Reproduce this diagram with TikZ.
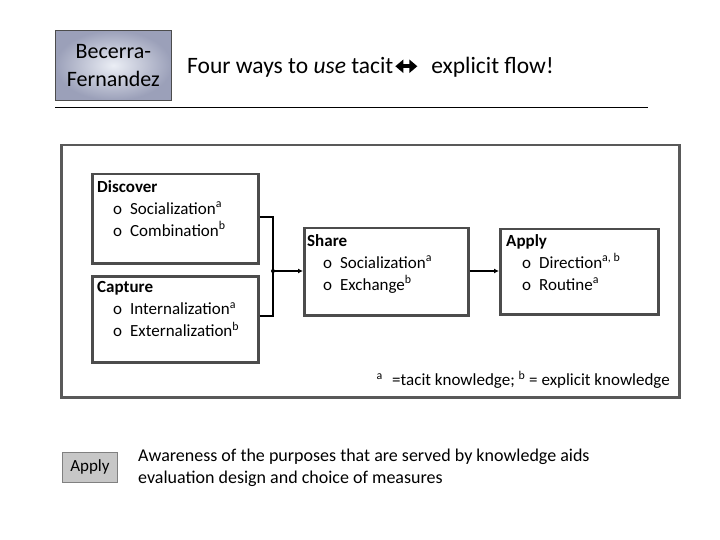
\documentclass[tikz,border=0pt]{standalone}
\usepackage{fontspec}
\setmainfont{Carlito}
\usetikzlibrary{arrows.meta}
\definecolor{bfout}{RGB}{155,160,185}
\definecolor{bfin}{RGB}{235,238,245}
\begin{document}
\begin{tikzpicture}[x=1pt,y=-1pt,
  box/.style={draw=black!70,line width=2.5pt,anchor=north west,inner sep=0pt},
  txt/.style={anchor=north west,inner sep=0pt,align=left,font=\fontsize{17}{22}\selectfont},
  conn/.style={line width=1.3pt,-{Latex[length=5pt,width=5pt]}}]
\useasboundingbox (0,0) rectangle (720,540);
\node[draw=black!70,line width=0.8pt,shading=radial,inner color=bfin,outer color=bfout,
  minimum width=116pt,minimum height=70pt,anchor=north west,inner sep=0pt,align=center,
  font=\fontsize{22}{28}\selectfont] (bf) at (55,30) {Becerra-\\Fernandez};
\node[anchor=west,inner sep=0pt,font=\fontsize{23.5}{27}\selectfont] (title) at (187,67) {Four ways to \emph{use} tacit\tikz[baseline=-7pt,x=1pt,y=1pt]\draw[line width=4pt,{Triangle[length=8pt,width=13pt]}-{Triangle[length=8pt,width=13pt]}] (0,-0) -- (22,0);\hspace{12pt}explicit flow!};
\coordinate (l1) at (55,107); \coordinate (l2) at (648,107);
\draw[line width=0.8pt] (l1) -- (l2);
\node[box,draw=black!65,line width=2.5pt,minimum width=618pt,minimum height=252pt] (outer) at (60,144) {};
\node[box,minimum width=166pt,minimum height=89pt] (disc) at (91,173) {};
\node[txt] (disct) at (97,180) {\textbf{Discover}\\\hspace{16pt}o\hspace{8pt}Socialization\textsuperscript{a}\\\hspace{16pt}o\hspace{8pt}Combination\textsuperscript{b}};
\node[box,minimum width=166pt,minimum height=86pt] (capt) at (91,275) {};
\node[txt] (captt) at (97,281) {\textbf{Capture}\\\hspace{16pt}o\hspace{8pt}Internalization\textsuperscript{a}\\\hspace{16pt}o\hspace{8pt}Externalization\textsuperscript{b}};
\node[box,minimum width=164pt,minimum height=87pt] (share) at (303,227) {};
\node[txt] (sharet) at (307,234) {\textbf{Share}\\\hspace{16pt}o\hspace{8pt}Socialization\textsuperscript{a}\\\hspace{16pt}o\hspace{8pt}Exchange\textsuperscript{b}};
\node[box,minimum width=158pt,minimum height=85pt] (apply) at (499,228) {};
\node[txt] (applyt) at (506,234) {\textbf{Apply}\\\hspace{16pt}o\hspace{8pt}Direction\textsuperscript{a, b}\\\hspace{16pt}o\hspace{8pt}Routine\textsuperscript{a}};
\coordinate (j) at (273,271);
\draw[line width=1.3pt] (disc.east |- 0,217) -| (j);
\draw[line width=1.3pt] (capt.east |- 0,316) -| (j);
\fill (j) circle (2pt);
\draw[conn] (j) -- (share.west |- j);
\draw[conn] (share.east |- j) -- (apply.west |- j);
\node[anchor=east,inner sep=0pt,font=\fontsize{17}{20}\selectfont] (foot) at (670,380) {\textsuperscript{a}\,\, =tacit knowledge; \textsuperscript{b} = explicit knowledge};
\node[draw=black!50,line width=0.8pt,fill=black!22,minimum width=55pt,minimum height=30pt,anchor=north west,inner sep=0pt,font=\fontsize{17}{20}\selectfont] (ap2) at (62,452) {Apply};
\node[anchor=north west,inner sep=0pt,align=left,font=\fontsize{18}{22}\selectfont] (desc) at (138,449) {Awareness of the purposes that are served by knowledge aids\\evaluation design and choice of measures};
\end{tikzpicture}
\end{document}
